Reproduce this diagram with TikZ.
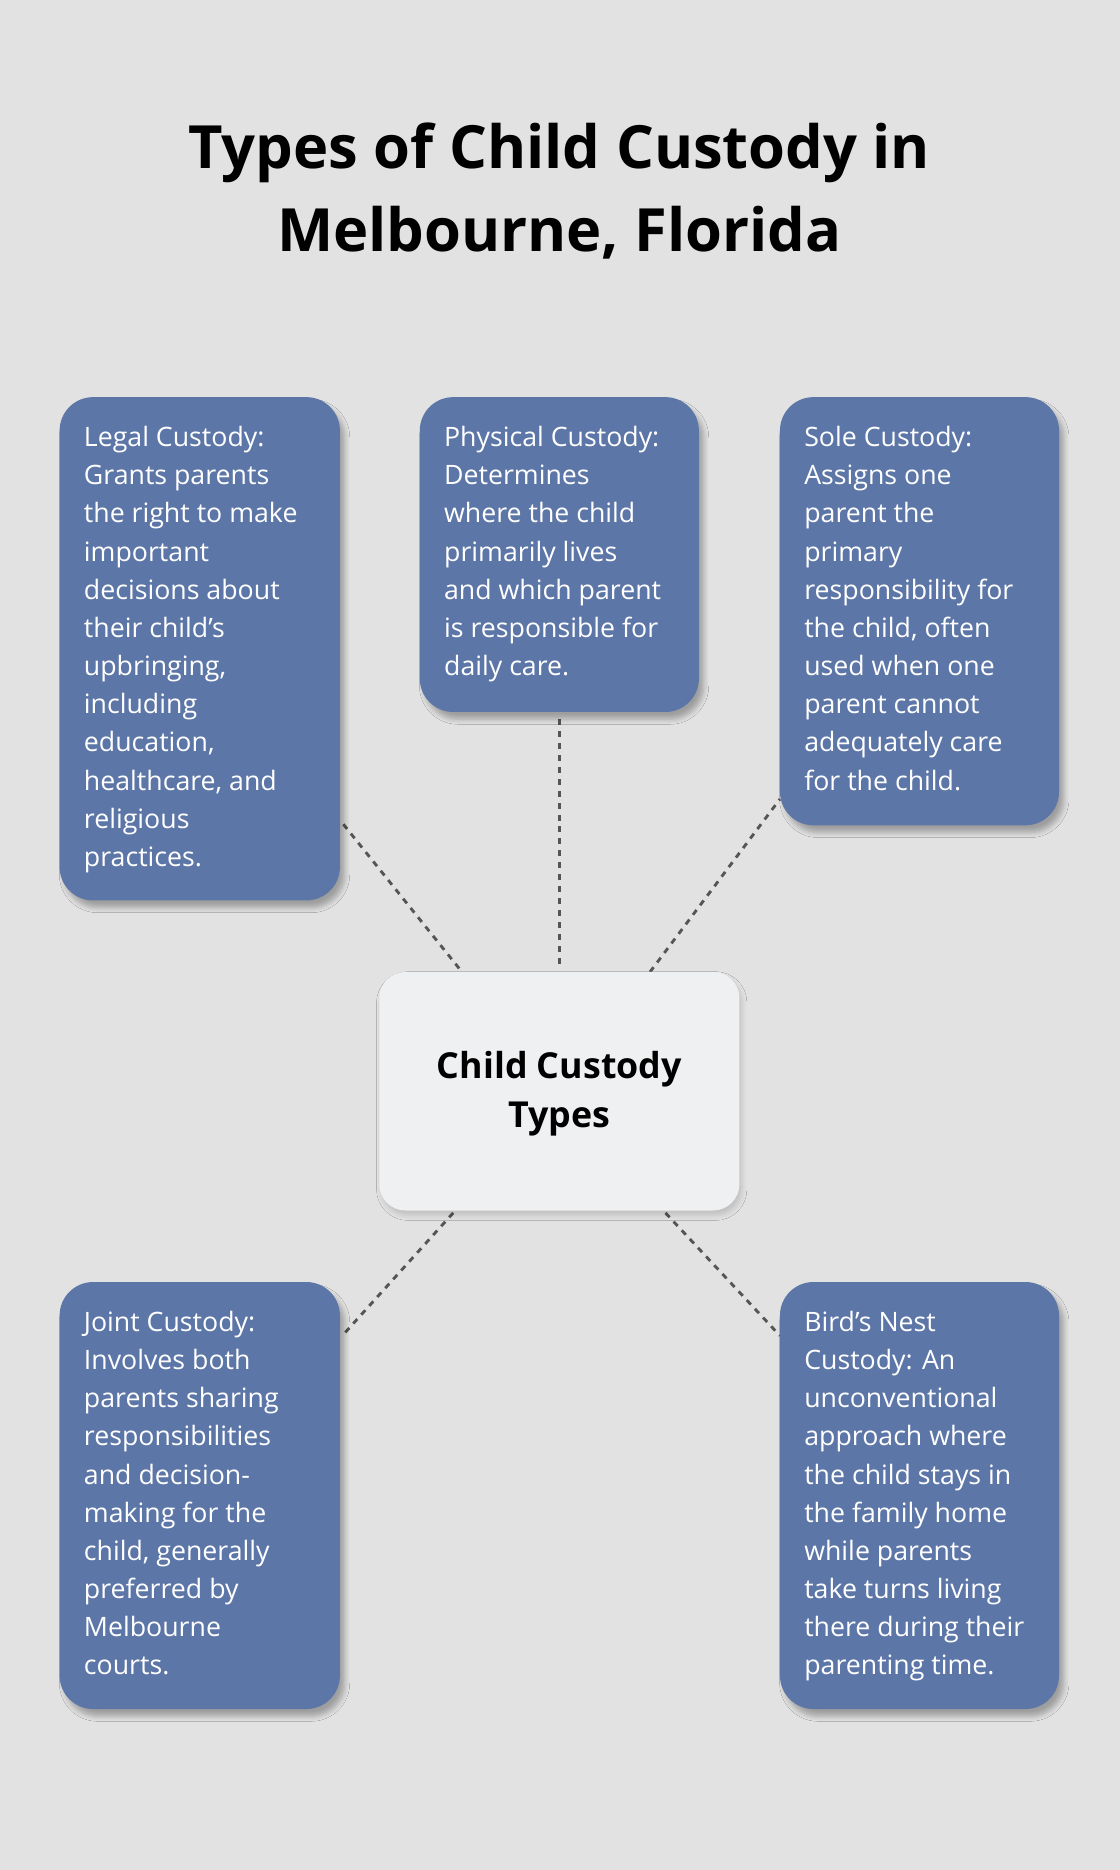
\documentclass[tikz,border=0pt]{standalone}
\usepackage{fontspec}
\setmainfont{Open Sans}
\usetikzlibrary{shadows.blur}
\definecolor{bg}{HTML}{E1E2E1}
\definecolor{boxc}{HTML}{5D76A8}
\definecolor{cen}{HTML}{EFF0F2}
\definecolor{ln}{HTML}{555555}
\tikzset{
 card/.style={fill=boxc,rounded corners=14pt,blur shadow={shadow xshift=2pt,shadow yshift=-3pt,shadow blur steps=6,shadow opacity=30}},
 txt/.style={anchor=north west,align=left,text=white,font=\fontsize{11.2}{16}\selectfont,inner sep=0pt},
 conn/.style={draw=ln,dashed,line width=1.2pt,dash pattern=on 2.5pt off 2.5pt}
}
\begin{document}
\begin{tikzpicture}[x=0.5pt,y=-0.5pt]
\fill[bg] (0,0) rectangle (939,1568);
\useasboundingbox (0,0) rectangle (939,1568);
\node[font=\fontsize{25}{35}\selectfont\bfseries,align=center] (title) at (469,160) {Types of Child Custody in\\Melbourne, Florida};
% connectors
\coordinate (c1) at (385,812); \coordinate (b1) at (287,690);
\coordinate (c2) at (469,808); \coordinate (b2) at (469,600);
\coordinate (c3) at (545,815); \coordinate (b3) at (654,670);
\coordinate (c4) at (380,1017); \coordinate (b4) at (287,1120);
\coordinate (c5) at (558,1017); \coordinate (b5) at (654,1120);
\foreach \i in {1,...,5}{\draw[conn] (c\i) -- (b\i);}
\fill[card] (50,333) rectangle (285,755);
\fill[card] (352,333) rectangle (586,597);
\fill[card] (654,333) rectangle (888,692);
\fill[card] (50,1075) rectangle (285,1433);
\fill[card] (654,1075) rectangle (888,1433);
\fill[cen,rounded corners=11pt,blur shadow={shadow xshift=1pt,shadow yshift=-2pt,shadow opacity=15}] (318,815) rectangle (620,1015);
\node[font=\fontsize{15}{20.5}\selectfont\bfseries,align=center] (center) at (469,917) {Child Custody\\Types};
\node[txt] (legal) at (70,357) {Legal Custody:\\Grants parents\\the right to make\\important\\decisions about\\their child's\\upbringing,\\including\\education,\\healthcare, and\\religious\\practices.};
\node[txt] (phys) at (372,357) {Physical Custody:\\Determines\\where the child\\primarily lives\\and which parent\\is responsible for\\daily care.};
\node[txt] (sole) at (674,357) {Sole Custody:\\Assigns one\\parent the\\primary\\responsibility for\\the child, often\\used when one\\parent cannot\\adequately care\\for the child.};
\node[txt] (joint) at (70,1099) {Joint Custody:\\Involves both\\parents sharing\\responsibilities\\and decision-\\making for the\\child, generally\\preferred by\\Melbourne\\courts.};
\node[txt] (bird) at (674,1099) {Bird's Nest\\Custody: An\\unconventional\\approach where\\the child stays in\\the family home\\while parents\\take turns living\\there during their\\parenting time.};
\end{tikzpicture}
\end{document}
